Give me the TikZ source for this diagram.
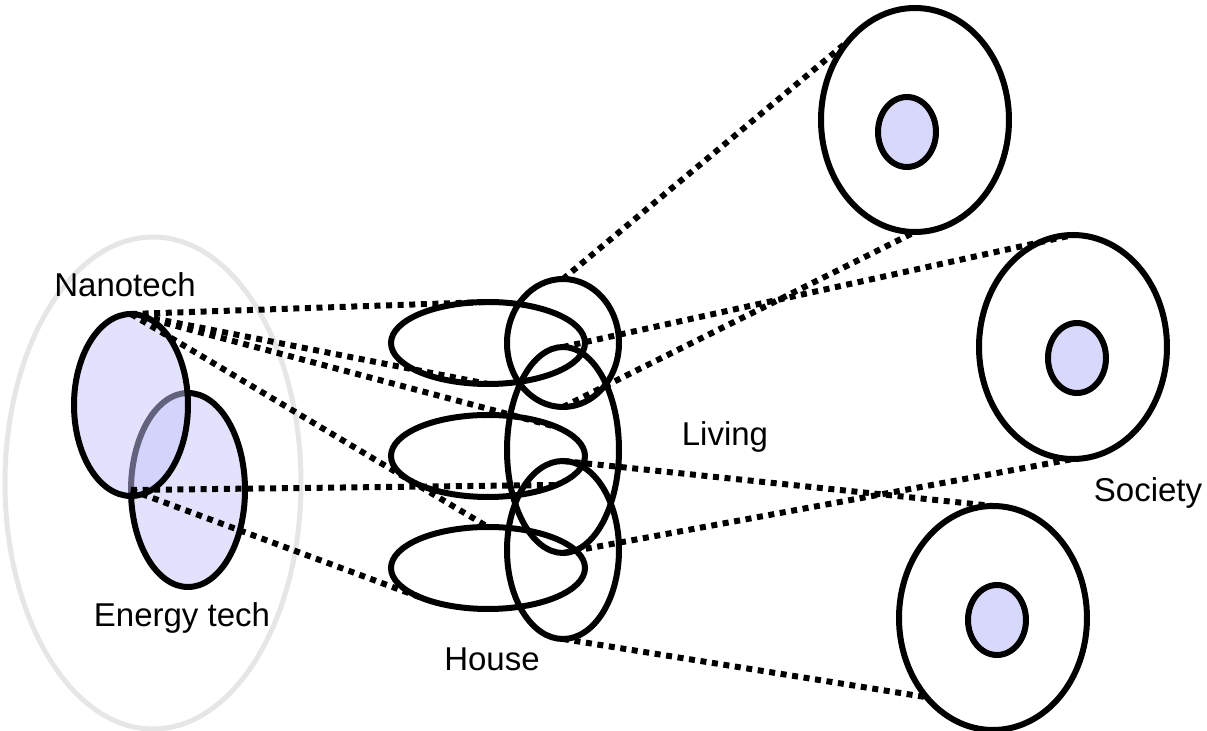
\documentclass[tikz,border=0pt]{standalone}
\usepackage{fontspec}
\setmainfont{Liberation Sans}
\usepackage{tikz}
\usetikzlibrary{
  shapes.geometric
}
\definecolor{techfill}{RGB}{197,197,251}
\definecolor{corefill}{RGB}{216,216,252}
\definecolor{rimgray}{RGB}{230,230,230}

\begin{document}
\begin{tikzpicture}[x=0.5pt,y=-0.5pt,
  ring/.style={ellipse,draw,line width=3pt,inner sep=0pt,outer sep=0pt},
  tech/.style={ring,fill=techfill,fill opacity=0.5,minimum width=57pt},
  flat/.style={ring,minimum width=97pt,minimum height=41pt},
  tall/.style={ring,minimum width=56pt},
  soc/.style={ring,minimum width=94pt,minimum height=112pt},
  core/.style={ring,fill=corefill,minimum width=29pt,minimum height=35pt},
  link/.style={line width=3pt,dash pattern=on 3pt off 2.8pt},
  lbl/.style={anchor=base,font=\fontsize{16.5}{20}\selectfont}]
\useasboundingbox (0,0) rectangle (1207,731);

\node (field) [ellipse,draw=rimgray,line width=2.5pt,minimum width=148pt,minimum height=246pt] at (153,483) {};
\node (energy) [tech,minimum height=97pt] at (188,490) {};
\node (nano) [tech,minimum height=91pt] at (131,405) {};

\node (house1) [flat] at (488,343) {};
\node (house2) [flat] at (488,456) {};
\node (house3) [flat] at (488,568) {};
\node (liv1) [tall,minimum height=64pt] at (563,343) {};
\node (liv2) [tall,minimum height=103pt] at (563,450) {};
\node (liv3) [tall,minimum height=89pt] at (563,550) {};

\node (soc1) [soc] at (915,120) {};
\node (soc2) [soc] at (1073,347) {};
\node (soc3) [soc] at (993,618) {};
\node (core1) [core] at (907,132) {};
\node (core2) [core] at (1077,358) {};
\node (core3) [core] at (997,620) {};

\node (nanolbl) [lbl] at (125,297) {Nanotech};
\node (energylbl) [lbl] at (182,627) {Energy tech};
\node (houselbl) [lbl] at (492,671) {House};
\node (livlbl) [lbl] at (725,446) {Living};
\node (soclbl) [lbl] at (1148,502) {Society};

\path[link]	(nano.north)	edge (house1.north)
						edge (house1.south)
						edge (house2.north east)
						edge (house3.north)
			(energy.west)	edge (house2.south east)
						edge (house3.south west);

\path[link]	(liv1.north)	edge (soc1.north west)
			(liv1.south)	edge (soc1.south)
			(liv2.north)	edge (soc2.north)
			(liv2.south)	edge (soc2.south)
			(liv3.north)	edge (soc3.north)
			(liv3.south)	edge (soc3.south west);
\end{tikzpicture}
\end{document}
